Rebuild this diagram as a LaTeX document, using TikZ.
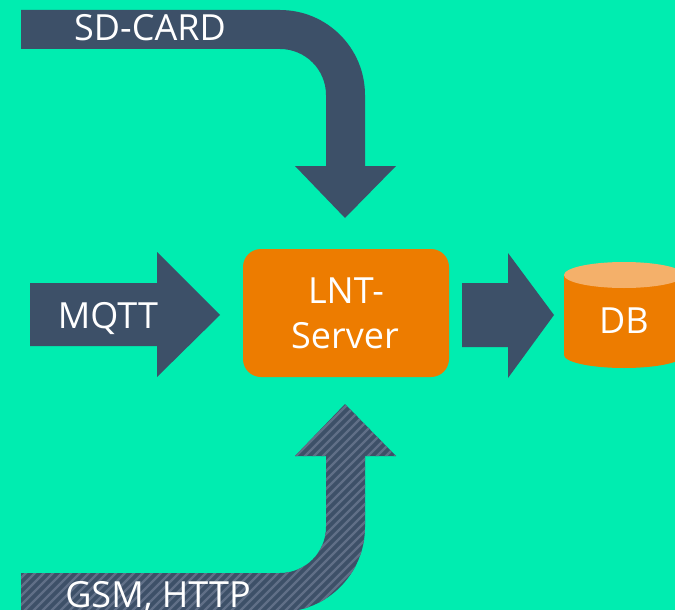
\documentclass[tikz,border=0pt]{standalone}
\usepackage{fontspec}
\setmainfont{Open Sans}
\definecolor{bgmint}{RGB}{0,237,176}
\definecolor{slate}{RGB}{61,80,104}
\definecolor{slatestripe}{RGB}{96,111,135}
\definecolor{srvorange}{RGB}{237,124,0}
\definecolor{lidorange}{RGB}{244,176,106}
\begin{document}
\begin{tikzpicture}[x=1pt,y=-1pt,
  txt/.style={text=white,font=\fontsize{36}{43}\selectfont,inner sep=0pt,anchor=base},
  blockarrow/.style={fill=slate}]
% background and page size
\fill[bgmint] (0,0) rectangle (675,610);
\useasboundingbox (0,0) rectangle (675,610);

% SD-CARD: bent arrow coming from the top left
\fill[blockarrow] (21,10) -- (280,10) arc(-90:0:85) -- (365,166) -- (396,166)
  -- (345,218) -- (295,166) -- (326,166) -- (326,95) arc(0:-90:46)
  -- (21,49) -- cycle;

% GSM, HTTP: bent arrow from the bottom left, hatched
\def\gsmpath{(21,573) -- (280,573) arc(90:0:46) -- (326,456) -- (295,456)
  -- (345,404) -- (396,456) -- (365,456) -- (365,527) arc(0:90:85)
  -- (21,612) -- cycle}
\fill[blockarrow] \gsmpath;
\begin{scope}
  \clip \gsmpath;
  \foreach \i in {-300,-291,...,420}
    \draw[slatestripe,line width=2.3pt] (\i,620) -- (\i+260,360);
\end{scope}

% MQTT arrow
\fill[blockarrow] (30,283) -- (157,283) -- (157,252) -- (220,315) -- (157,377)
  -- (157,346) -- (30,346) -- cycle;

% arrow from the server to the database
\fill[blockarrow] (462,283) -- (508,283) -- (508,253) -- (554,315) -- (508,378)
  -- (508,347) -- (462,347) -- cycle;

% server
\node[fill=srvorange,rounded corners=18pt,minimum width=206pt,minimum height=128pt,
  inner sep=0pt] (server) at (346,313) {};

% database cylinder
\fill[srvorange] (564,275) -- (564,355) arc(180:0:60 and 13) -- (684,275) -- cycle;
\fill[lidorange] (624,275) ellipse (60 and 13);

% labels
\node[txt] (sdcard) at (150,41) {SD-CARD};
\node[txt] (gsm) at (158,607) {GSM, HTTP};
\node[txt] (mqtt) at (108,328) {MQTT};
\node[txt] (lnt) at (346,303) {LNT-};
\node[txt] (srv) at (345,348) {Server};
\node[txt] (db) at (624,333) {DB};
\end{tikzpicture}
\end{document}
